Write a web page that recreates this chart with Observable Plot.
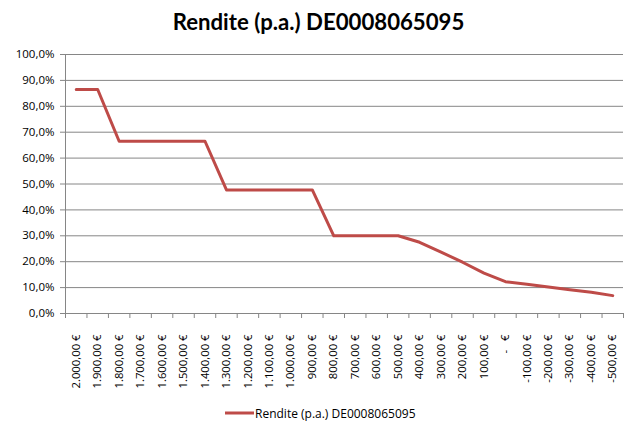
<!DOCTYPE html>
<html><head><meta charset="utf-8">
<script src="https://cdn.jsdelivr.net/npm/d3@7"></script>
<script src="https://cdn.jsdelivr.net/npm/@observablehq/plot@0.6"></script>
<style>
html,body{margin:0;padding:0;background:#fff;}
#wrap{position:relative;width:633px;height:433px;overflow:hidden;font-family:"Open Sans",sans-serif;color:#000;}
#title{position:absolute;top:11px;left:0;width:637px;text-align:center;font-family:Lato,sans-serif;font-weight:bold;font-size:22.2px;line-height:1;}
#chart{position:absolute;top:40px;left:0;}
#legend{position:absolute;top:404px;left:225px;display:flex;align-items:center;font-size:12px;font-family:"Open Sans",sans-serif;}
</style></head>
<body><div id="wrap">
<div id="title">Rendite (p.a.) DE0008065095</div>
<div id="chart"></div>
<div id="legend"><svg width="29" height="18" style="display:block"><line x1="0" x2="29" y1="9" y2="9" stroke="#BE4B48" stroke-width="3"/></svg><span style="margin-left:1px">Rendite (p.a.) DE0008065095</span></div>
</div>
<script>
const categories = ["2.000,00 €","1.900,00 €","1.800,00 €","1.700,00 €","1.600,00 €","1.500,00 €","1.400,00 €","1.300,00 €","1.200,00 €","1.100,00 €","1.000,00 €","900,00 €","800,00 €","700,00 €","600,00 €","500,00 €","400,00 €","300,00 €","200,00 €","100,00 €","-\u00a0\u00a0\u00a0€","-100,00 €","-200,00 €","-300,00 €","-400,00 €","-500,00 €"];
const values = [86.5,86.5,66.5,66.5,66.5,66.5,66.5,47.7,47.7,47.7,47.7,47.7,30,30,30,30,27.5,23.7,19.8,15.6,12.3,11.3,10.2,9.2,8.2,6.9];
const yTicks = [0,10,20,30,40,50,60,70,80,90,100];
const seriesName = "Rendite (p.a.) DE0008065095";

const data = categories.map((c, i) => ({i, label: c, value: values[i]}));
const idx = d3.range(categories.length);
const bounds = d3.range(categories.length + 1).map(k => k - 0.5);
const gray = "#868686";

const chart = Plot.plot({
  width: 633,
  height: 360,
  marginTop: 14,
  marginBottom: 87,
  marginLeft: 65,
  marginRight: 10,
  style: {fontFamily: "'Open Sans', sans-serif", fontSize: "11px", color: "#000", background: "#fff"},
  x: {type: "linear", domain: [-0.5, categories.length - 0.5]},
  y: {domain: [0, 100]},
  marks: [
    Plot.gridY(yTicks, {stroke: gray, strokeOpacity: 1}),
    Plot.ruleX([-0.5], {stroke: gray}),
    Plot.ruleY([0], {stroke: gray}),
    Plot.axisY(yTicks, {tickSize: 5, tickPadding: 6, stroke: gray, fill: "#000", label: null, fontSize: 11.5,
      tickFormat: d => d.toFixed(1).replace(".", ",") + "%"}),
    Plot.axisX(bounds, {tickSize: 5, stroke: gray, tickFormat: () => "", label: null}),
    Plot.axisX(idx, {tickSize: 0, tickPadding: 21, tickRotate: -90, fill: "#000", label: null, fontSize: 11.3,
      tickFormat: i => categories[i]}),
    Plot.lineY(data, {x: "i", y: "value", stroke: "#BE4B48", strokeWidth: 3, title: () => seriesName})
  ]
});
document.getElementById("chart").appendChild(chart);
</script>
</body></html>
